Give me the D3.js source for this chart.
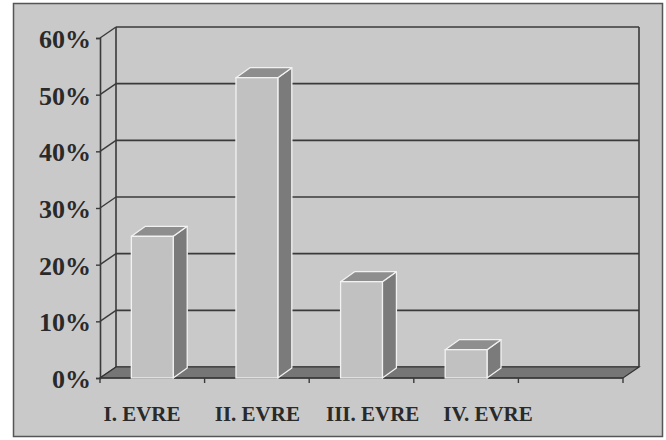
<!DOCTYPE html>
<html><head><meta charset="utf-8">
<script src="https://cdn.jsdelivr.net/npm/d3@7"></script>
<style>
html,body{margin:0;padding:0;background:#fff;}
svg{display:block;}
</style></head>
<body>
<script>
const categories = ["I. EVRE", "II. EVRE", "III. EVRE", "IV. EVRE"];
const values = [25, 53, 17, 5];
const yTicks = [0, 10, 20, 30, 40, 50, 60];
const slots = categories.concat([""]);

const W = 666, H = 440;
const DX = 16, DY = -11;           // depth of the 3D box
const BDX = 14, BDY = -10;         // depth of each column
const svg = d3.select("body").append("svg").attr("width", W).attr("height", H);

// frame
svg.append("rect").attr("x", 0).attr("y", 0).attr("width", W).attr("height", H).attr("fill", "#fff");
svg.append("rect").attr("x", 13.5).attr("y", 3.5).attr("width", 649).attr("height", 433)
  .attr("fill", "#c9c9c9").attr("stroke", "#555").attr("stroke-width", 1.5);

const x = d3.scaleBand().domain(slots).range([100, 623]).paddingInner(0).paddingOuter(0);
const y = d3.scaleLinear().domain([0, 60]).range([378, 38]);
const xLab = d3.scalePoint().domain(categories).range([142, 488]);

const x0 = x.range()[0], x1 = x.range()[1];
const line = "#3a3a3a";

// back wall gridlines
svg.append("g").selectAll("line").data(yTicks).join("line")
  .attr("x1", x0 + DX).attr("x2", x1 + DX)
  .attr("y1", d => y(d) + DY).attr("y2", d => y(d) + DY)
  .attr("stroke", line).attr("stroke-width", 1.6);
// left wall diagonals
svg.append("g").selectAll("line").data(yTicks).join("line")
  .attr("x1", x0).attr("x2", x0 + DX)
  .attr("y1", d => y(d)).attr("y2", d => y(d) + DY)
  .attr("stroke", line).attr("stroke-width", 1.4);
// back wall verticals
[x0 + DX, x1 + DX].forEach(px => {
  svg.append("line").attr("x1", px).attr("x2", px)
    .attr("y1", y(60) + DY).attr("y2", y(0) + DY)
    .attr("stroke", line).attr("stroke-width", 1.6);
});

// floor
svg.append("path")
  .attr("d", `M${x0},${y(0)}L${x1},${y(0)}L${x1 + DX},${y(0) + DY}L${x0 + DX},${y(0) + DY}Z`)
  .attr("fill", "#767676").attr("stroke", "#333").attr("stroke-width", 1.2);

// y axis (front left edge)
const yAxis = svg.append("g").attr("transform", `translate(${x0},0)`)
  .call(d3.axisLeft(y).tickValues(yTicks).tickFormat(d => d + "%").tickSize(4).tickPadding(5));
yAxis.select(".domain").attr("stroke", line).attr("stroke-width", 1.6);
yAxis.selectAll(".tick line").attr("stroke", line).attr("stroke-width", 1.4);
yAxis.selectAll("text").attr("font-family", "'Liberation Serif', 'Times New Roman', serif")
  .attr("font-weight", "bold").attr("font-size", 26).attr("fill", "#2a2a2a").attr("dy", "0.36em");

// x axis ticks at band edges
const edges = slots.map(s => x(s)).concat([x1]);
svg.append("line").attr("x1", x0).attr("x2", x1).attr("y1", y(0)).attr("y2", y(0))
  .attr("stroke", line).attr("stroke-width", 1.6);
svg.append("g").selectAll("line").data(edges).join("line")
  .attr("x1", d => d).attr("x2", d => d).attr("y1", y(0)).attr("y2", y(0) + 5)
  .attr("stroke", line).attr("stroke-width", 1.4);

// columns
const bw = x.bandwidth() * 0.4;
const bars = svg.append("g").selectAll("g").data(categories.map((c, i) => ({c, v: values[i]}))).join("g");
bars.each(function(d) {
  const g = d3.select(this);
  const l = x(d.c) + (x.bandwidth() - bw) / 2, r = l + bw;
  const t = y(d.v), b = y(0);
  // side
  g.append("path").attr("d", `M${r},${t}L${r + BDX},${t + BDY}L${r + BDX},${b + BDY}L${r},${b}Z`)
    .attr("fill", "#7b7b7b").attr("stroke", "#f2f2f2").attr("stroke-width", 1.3).attr("stroke-linejoin", "round");
  // top
  g.append("path").attr("d", `M${l},${t}L${l + BDX},${t + BDY}L${r + BDX},${t + BDY}L${r},${t}Z`)
    .attr("fill", "#8e8e8e").attr("stroke", "#f2f2f2").attr("stroke-width", 1.3).attr("stroke-linejoin", "round");
  // front
  g.append("rect").attr("x", l).attr("y", t).attr("width", bw).attr("height", b - t)
    .attr("fill", "#c1c1c1").attr("stroke", "#f2f2f2").attr("stroke-width", 1.3);
});

// category labels
svg.append("g").selectAll("text").data(categories).join("text")
  .attr("x", d => xLab(d)).attr("y", 421).attr("text-anchor", "middle")
  .attr("font-family", "'Liberation Serif', 'Times New Roman', serif")
  .attr("font-weight", "bold").attr("font-size", 21).attr("fill", "#2a2a2a")
  .text(d => d);
</script>
</body></html>
